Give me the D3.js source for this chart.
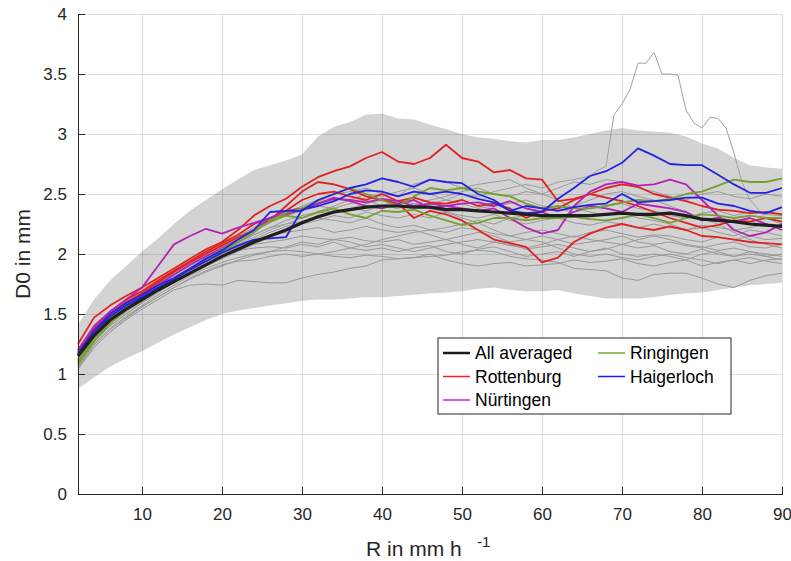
<!DOCTYPE html>
<html lang="en">
<head>
	<meta charset="UTF-8">
	<title>D0 vs rain rate</title>
	<style type="text/css">
		body{
			margin: 0;
			font-family: "Liberation Sans", Arial, Helvetica, sans-serif;
			background: white;
		}

		.axis text {
			font-size: 17px;
			fill: #262626;
		}

		.axis path,
		.axis line{
			fill: none;
			stroke: #262626;
			shape-rendering: crispEdges;
		}

		.grid line {
			stroke: #000;
			stroke-opacity: 0.12;
			shape-rendering: crispEdges;
		}

		.grid path {
			display: none;
		}

		.label {
			fill: #262626;
		}

		.legend text {
			font-size: 17.5px;
			fill: #000;
		}
	</style>
	<script type="text/javascript" src="https://d3js.org/d3.v7.min.js"></script>
</head>
<body>
</body>
<script type="text/javascript">
	// rain rate grid (mm/h) shared by all stations
	var rain = [2,4,6,8,10,12,14,16,18,20,22,24,26,28,30,32,34,36,38,40,42,44,46,48,50,52,54,56,58,60,62,64,66,68,70,72,74,76,78,80,82,84,86,88,90];

	// min / max envelope of all stations
	var bandUpper = [1.41,1.62,1.78,1.9,2.02,2.13,2.25,2.36,2.45,2.54,2.62,2.7,2.74,2.78,2.83,2.98,3.06,3.1,3.16,3.17,3.13,3.12,3.08,3.04,3.0,2.97,2.96,2.94,2.93,2.95,2.95,2.97,3.0,3.03,3.05,3.03,3.02,3.01,2.98,2.92,2.88,2.8,2.74,2.72,2.71];
	var bandLower = [0.88,0.97,1.06,1.13,1.19,1.26,1.33,1.39,1.45,1.5,1.53,1.55,1.57,1.59,1.61,1.62,1.62,1.63,1.64,1.64,1.65,1.66,1.67,1.68,1.69,1.71,1.72,1.7,1.69,1.69,1.7,1.67,1.65,1.63,1.63,1.63,1.64,1.66,1.67,1.68,1.7,1.72,1.74,1.75,1.76];

	// all stations averaged
	var averaged = [1.15,1.32,1.45,1.54,1.62,1.7,1.77,1.84,1.91,1.98,2.04,2.1,2.15,2.2,2.26,2.31,2.35,2.37,2.39,2.4,2.4,2.39,2.39,2.37,2.37,2.36,2.35,2.34,2.33,2.32,2.32,2.32,2.32,2.33,2.34,2.33,2.33,2.34,2.32,2.29,2.28,2.27,2.25,2.24,2.23];

	var rottenburg = [
		[1.25,1.47,1.57,1.65,1.72,1.8,1.88,1.96,2.04,2.1,2.2,2.32,2.4,2.46,2.56,2.64,2.69,2.73,2.8,2.85,2.77,2.75,2.8,2.91,2.8,2.77,2.68,2.7,2.63,2.62,2.44,2.46,2.5,2.55,2.58,2.56,2.5,2.47,2.44,2.4,2.37,2.36,2.34,2.35,2.33],
		[1.18,1.36,1.5,1.6,1.67,1.76,1.85,1.93,2.0,2.07,2.14,2.2,2.28,2.4,2.52,2.6,2.58,2.54,2.48,2.45,2.42,2.3,2.36,2.33,2.28,2.2,2.12,2.09,2.06,1.93,1.97,2.1,2.17,2.22,2.25,2.22,2.2,2.23,2.2,2.15,2.14,2.12,2.1,2.09,2.08],
		[1.2,1.38,1.52,1.62,1.69,1.78,1.86,1.94,2.02,2.09,2.16,2.25,2.3,2.36,2.45,2.5,2.52,2.48,2.45,2.5,2.44,2.47,2.43,2.42,2.45,2.4,2.42,2.38,2.3,2.36,2.38,2.45,2.5,2.47,2.44,2.4,2.35,2.3,2.26,2.22,2.24,2.28,2.27,2.3,2.27]
	];

	var nuertingen = [
		[1.2,1.4,1.52,1.62,1.72,1.9,2.08,2.15,2.21,2.17,2.22,2.26,2.3,2.33,2.37,2.42,2.47,2.44,2.4,2.38,2.42,2.45,2.38,2.4,2.42,2.43,2.4,2.44,2.38,2.35,2.3,2.35,2.4,2.38,2.35,2.42,2.4,2.38,2.35,2.28,2.3,2.27,2.3,2.25,2.2],
		[1.17,1.35,1.48,1.57,1.65,1.74,1.83,1.91,1.98,2.05,2.12,2.2,2.3,2.36,2.38,2.42,2.46,2.45,2.43,2.46,2.44,2.4,2.42,2.4,2.38,2.36,2.38,2.3,2.22,2.17,2.2,2.4,2.52,2.58,2.6,2.57,2.58,2.62,2.58,2.45,2.32,2.2,2.15,2.18,2.25]
	];

	var ringingen = [
		[1.1,1.3,1.44,1.55,1.63,1.72,1.8,1.88,1.96,2.02,2.1,2.18,2.28,2.34,2.38,2.44,2.5,2.55,2.5,2.45,2.4,2.48,2.55,2.53,2.55,2.52,2.5,2.48,2.42,2.38,2.4,2.38,2.38,2.4,2.43,2.45,2.44,2.46,2.5,2.52,2.57,2.62,2.6,2.6,2.63],
		[1.08,1.27,1.42,1.53,1.62,1.71,1.8,1.88,1.96,2.04,2.12,2.2,2.27,2.32,2.3,2.35,2.38,2.33,2.3,2.36,2.35,2.37,2.32,2.28,2.24,2.26,2.3,2.3,2.28,2.3,2.3,2.31,2.29,2.28,2.3,2.33,2.3,2.26,2.3,2.33,2.32,2.3,2.32,2.3,2.3]
	];

	var haigerloch = [
		[1.17,1.36,1.5,1.59,1.66,1.74,1.8,1.88,1.96,2.03,2.12,2.2,2.35,2.36,2.36,2.45,2.5,2.55,2.58,2.63,2.6,2.56,2.62,2.6,2.59,2.5,2.45,2.36,2.34,2.35,2.46,2.55,2.65,2.69,2.76,2.88,2.82,2.75,2.74,2.74,2.66,2.58,2.51,2.51,2.55],
		[1.16,1.35,1.48,1.57,1.64,1.72,1.79,1.87,1.94,2.01,2.07,2.12,2.13,2.14,2.37,2.4,2.44,2.5,2.53,2.52,2.48,2.52,2.5,2.52,2.5,2.46,2.43,2.36,2.4,2.38,2.36,2.39,2.41,2.42,2.5,2.43,2.44,2.45,2.47,2.47,2.42,2.4,2.36,2.34,2.39]
	];

	// remaining stations (grey)
	var otherStations = [
		[1.05,1.22,1.35,1.45,1.54,1.62,1.7,1.74,1.75,1.74,1.78,1.77,1.76,1.76,1.8,1.83,1.85,1.88,1.9,1.95,1.96,1.97,1.98,1.99,2.02,2.03,2.02,1.98,1.96,1.95,1.93,1.88,1.87,1.86,1.8,1.78,1.83,1.84,1.84,1.8,1.75,1.72,1.78,1.82,1.84],
		[1.07,1.25,1.38,1.48,1.57,1.66,1.74,1.82,1.88,1.93,1.97,2.0,2.02,2.03,2.02,2.0,1.98,1.97,1.99,1.98,1.96,1.97,2.0,1.95,1.92,1.9,1.92,1.93,1.9,1.91,1.92,1.95,1.93,1.94,1.96,1.92,1.9,1.93,1.95,1.9,1.93,1.95,1.92,1.95,1.96],
		[1.1,1.28,1.4,1.5,1.59,1.68,1.77,1.85,1.92,1.98,2.03,2.05,2.06,2.05,2.08,2.06,2.1,2.05,2.03,2.05,2.02,2.05,2.07,2.02,2.0,2.04,2.06,2.02,1.98,2.0,2.02,1.98,2.02,2.05,2.0,1.98,2.0,1.98,1.95,2.0,2.02,1.98,2.0,1.98,2.0],
		[1.12,1.3,1.43,1.53,1.62,1.7,1.78,1.86,1.93,2.0,2.05,2.08,2.1,2.12,2.15,2.13,2.12,2.14,2.11,2.1,2.12,2.08,2.1,2.12,2.08,2.05,2.1,2.08,2.04,2.06,2.08,2.05,2.02,2.04,2.08,2.05,2.07,2.02,2.0,2.04,2.0,1.98,2.02,2.0,1.98],
		[1.13,1.31,1.45,1.55,1.64,1.72,1.8,1.88,1.95,2.02,2.08,2.12,2.15,2.18,2.2,2.22,2.18,2.2,2.23,2.2,2.18,2.2,2.16,2.12,2.15,2.18,2.15,2.1,2.12,2.15,2.12,2.08,2.1,2.12,2.15,2.1,2.08,2.1,2.07,2.05,2.08,2.1,2.06,2.05,2.08],
		[1.11,1.29,1.42,1.52,1.61,1.7,1.79,1.87,1.95,2.02,2.09,2.16,2.22,2.25,2.27,2.3,2.28,2.26,2.3,2.25,2.22,2.24,2.2,2.18,2.22,2.2,2.17,2.15,2.18,2.2,2.17,2.14,2.18,2.2,2.17,2.14,2.16,2.15,2.12,2.1,2.14,2.12,2.15,2.12,2.13],
		[1.14,1.33,1.47,1.57,1.66,1.75,1.83,1.91,1.98,2.05,2.12,2.19,2.26,2.32,2.36,2.4,2.38,2.42,2.45,2.4,2.38,2.42,2.45,2.48,2.52,2.55,2.5,2.48,2.52,2.5,2.55,2.6,2.58,2.62,2.6,2.55,2.52,2.48,2.45,2.5,2.52,2.48,2.46,2.5,2.48],
		[1.16,1.34,1.48,1.58,1.68,1.77,1.85,1.93,2.01,2.08,2.15,2.22,2.3,2.35,2.4,2.45,2.5,2.52,2.55,2.5,2.48,2.58,2.62,2.6,2.55,2.58,2.6,2.62,2.55,2.5,2.45,2.38,2.35,2.32,2.35,2.3,2.28,2.25,2.2,2.22,2.18,2.15,2.2,2.18,2.15],
		[1.09,1.27,1.4,1.5,1.6,1.68,1.76,1.83,1.9,1.96,2.02,2.08,2.14,2.2,2.25,2.28,2.32,2.3,2.35,2.32,2.3,2.33,2.3,2.35,2.32,2.3,2.33,2.28,2.25,2.28,2.3,2.26,2.24,2.27,2.25,2.22,2.25,2.22,2.2,2.24,2.22,2.2,2.22,2.25,2.22],
		[1.06,1.24,1.37,1.47,1.56,1.64,1.72,1.8,1.86,1.91,1.94,1.95,1.98,2.0,1.98,2.0,2.02,2.05,2.08,2.12,2.15,2.18,2.2,2.22,2.25,2.28,2.25,2.3,2.32,2.35,2.38,2.4,2.45,2.5,2.52,2.48,2.45,2.4,2.35,2.3,2.25,2.18,2.12,2.08,2.05],
		[1.1,1.29,1.42,1.52,1.62,1.7,1.79,1.87,1.94,2.0,2.06,2.12,2.18,2.23,2.26,2.3,2.34,2.38,2.36,2.4,2.45,2.42,2.38,2.35,2.3,2.26,2.2,2.15,2.12,2.1,2.05,2.0,1.98,2.0,1.97,1.95,1.98,2.0,1.97,1.95,1.92,1.95,1.97,1.94,1.92],
		[1.15,1.33,1.46,1.56,1.65,1.74,1.82,1.9,1.98,2.04,2.1,2.16,2.22,2.28,2.32,2.35,2.4,2.45,2.5,2.48,2.52,2.55,2.5,2.45,2.42,2.38,2.4,2.42,2.45,2.4,2.38,2.35,2.38,2.4,2.42,2.38,2.36,2.32,2.3,2.34,2.36,2.32,2.35,2.33,2.32],
		[1.04,1.22,1.35,1.46,1.56,1.64,1.72,1.79,1.85,1.9,1.95,1.99,2.02,2.06,2.1,2.08,2.12,2.1,2.06,2.08,2.05,2.02,2.05,2.08,2.1,2.12,2.1,2.07,2.05,2.08,2.12,2.15,2.12,2.1,2.08,2.12,2.15,2.12,2.08,2.06,2.03,2.05,2.02,1.98,1.95]
	];

	// one grey station with the big excursion above the envelope (finer steps)
	var outlierRain = [2,4,6,8,10,12,14,16,18,20,22,24,26,28,30,32,34,36,38,40,42,44,46,48,50,52,54,56,58,60,62,64,66,67,68,69,70,71,72,73,74,75,76,77,78,79,80,81,82,83,84,85,86,88,90];
	var outlierD0 = [1.12,1.3,1.44,1.54,1.63,1.72,1.8,1.88,1.95,2.02,2.08,2.14,2.2,2.25,2.3,2.34,2.36,2.38,2.42,2.45,2.4,2.38,2.42,2.45,2.5,2.48,2.52,2.55,2.58,2.55,2.6,2.62,2.65,2.7,2.73,3.16,3.25,3.37,3.59,3.59,3.68,3.5,3.5,3.49,3.2,3.09,3.05,3.14,3.13,3.05,2.84,2.6,2.45,2.3,2.25];

	var yTicks = [0,0.5,1,1.5,2,2.5,3,3.5,4];
	var xTicks = [10,20,30,40,50,60,70,80,90];

	var legendItems = [
		{name: 'All averaged', color: '#1a1a1a', width: 2.5},
		{name: 'Rottenburg', color: '#ff1a1a', width: 1.5},
		{name: 'Nürtingen', color: '#dd22dd', width: 1.5},
		{name: 'Ringingen', color: '#77ac30', width: 1.5},
		{name: 'Haigerloch', color: '#1a1aff', width: 1.5}
	];

	// dimensions
	var fullWidth = 791;
	var fullHeight = 561;
	var margin = {top: 14, right: 9, bottom: 67, left: 78};
	var width = fullWidth - margin.left - margin.right;
	var height = fullHeight - margin.top - margin.bottom;

	var svg = d3.select('body')
		.append('svg')
		.attr('width', fullWidth)
		.attr('height', fullHeight)
	.append('g')
		.attr('transform', 'translate(' + margin.left + ',' + margin.top + ')');

	var xScale = d3.scaleLinear().domain([2, 90]).range([0, width]);
	var yScale = d3.scaleLinear().domain([0, 4]).range([height, 0]);

	// envelope
	var area = d3.area()
		.x(function(d, i){ return xScale(rain[i]); })
		.y0(function(d, i){ return yScale(bandLower[i]); })
		.y1(function(d){ return yScale(d); });

	svg.append('path')
		.datum(bandUpper)
		.attr('d', area)
		.style('fill', '#d3d3d3');

	// gridlines on top of the envelope
	svg.append('g')
		.attr('class', 'grid')
		.attr('transform', 'translate(0,' + height + ')')
		.call(d3.axisBottom(xScale).tickValues(xTicks).tickSize(-height).tickFormat(''));

	svg.append('g')
		.attr('class', 'grid')
		.call(d3.axisLeft(yScale).tickValues(yTicks).tickSize(-width).tickFormat(''));

	var line = d3.line()
		.x(function(d, i){ return xScale(rain[i]); })
		.y(function(d){ return yScale(d); });

	// grey stations
	svg.selectAll('.other')
		.data(otherStations)
		.enter().append('path')
		.attr('class', 'other')
		.attr('d', line)
		.style('fill', 'none')
		.style('stroke', '#9a9a9a')
		.style('stroke-width', 1);

	var outlierLine = d3.line()
		.x(function(d, i){ return xScale(outlierRain[i]); })
		.y(function(d){ return yScale(d); });

	svg.append('path')
		.datum(outlierD0)
		.attr('d', outlierLine)
		.style('fill', 'none')
		.style('stroke', '#a0a0a0')
		.style('stroke-width', 1);

	// coloured stations
	function drawGroup(series, color){
		svg.append('g').selectAll('path')
			.data(series)
			.enter().append('path')
			.attr('d', line)
			.style('fill', 'none')
			.style('stroke', color)
			.style('stroke-width', 1.8)
			.style('stroke-linejoin', 'round');
	}
	drawGroup(rottenburg, '#e02222');
	drawGroup(nuertingen, '#b424b4');
	drawGroup(ringingen, '#77a032');
	drawGroup(haigerloch, '#2424e0');

	// average on top
	svg.append('path')
		.datum(averaged)
		.attr('d', line)
		.style('fill', 'none')
		.style('stroke', '#1f1f1f')
		.style('stroke-width', 3.2)
		.style('stroke-linejoin', 'round');

	// axes, ticks pointing inwards
	svg.append('g')
		.attr('class', 'x axis')
		.attr('transform', 'translate(0,' + height + ')')
		.call(d3.axisBottom(xScale).tickValues(xTicks).tickSizeInner(-7).tickSizeOuter(0).tickPadding(14));

	svg.append('g')
		.attr('class', 'y axis')
		.call(d3.axisLeft(yScale).tickValues(yTicks).tickSizeInner(-7).tickSizeOuter(0).tickPadding(11)
			.tickFormat(function(d){ return String(d); }));

	// axis labels
	svg.append('text')
		.attr('class', 'label')
		.attr('x', 288)
		.attr('y', 542)
		.style('font-size', '21px')
		.text('R in mm h');
	svg.append('text')
		.attr('class', 'label')
		.attr('x', 399)
		.attr('y', 533)
		.style('font-size', '15px')
		.text('-1');

	svg.append('text')
		.attr('class', 'label')
		.attr('transform', 'translate(-48,' + (height / 2) + ') rotate(-90)')
		.attr('text-anchor', 'middle')
		.style('font-size', '21px')
		.text('D0 in mm');

	// legend
	var legend = svg.append('g')
		.attr('class', 'legend')
		.attr('transform', 'translate(360,324)');

	legend.append('rect')
		.attr('x', 0)
		.attr('y', 0)
		.attr('width', 293)
		.attr('height', 76)
		.style('fill', 'white')
		.style('stroke', '#262626')
		.style('stroke-width', 1);

	var legendPos = [[0,0],[0,1],[0,2],[1,0],[1,1]];
	var entry = legend.selectAll('.entry')
		.data(legendItems)
		.enter().append('g')
		.attr('class', 'entry')
		.attr('transform', function(d, i){
			return 'translate(' + (5 + legendPos[i][0] * 155) + ',' + (15 + legendPos[i][1] * 23.5) + ')';
		});

	entry.append('line')
		.attr('x1', 0)
		.attr('x2', 27)
		.attr('y1', 0)
		.attr('y2', 0)
		.style('stroke', function(d){ return d.color; })
		.style('stroke-width', function(d){ return d.width; });

	entry.append('text')
		.attr('x', 32)
		.attr('y', 0)
		.attr('dy', '0.35em')
		.text(function(d){ return d.name; });
</script>
</html>
